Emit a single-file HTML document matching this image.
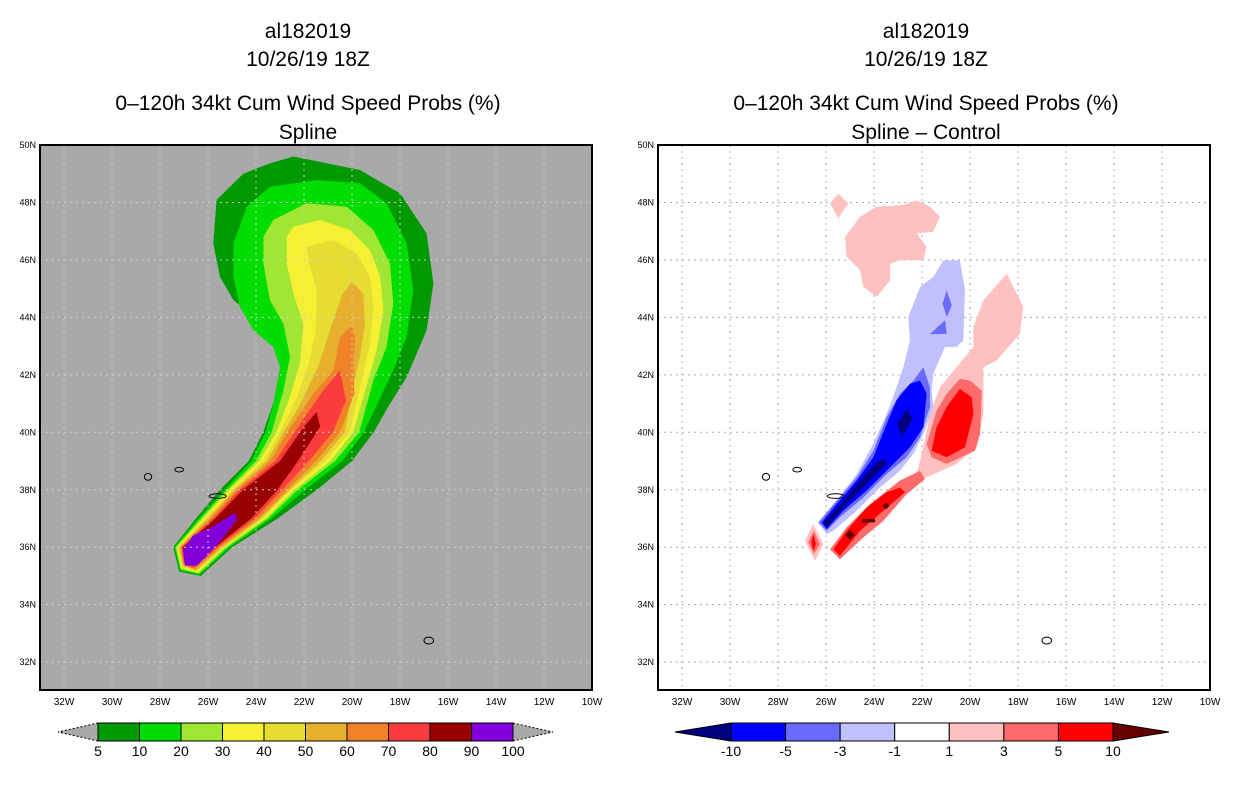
<!DOCTYPE html>
<html><head><meta charset="utf-8"><style>
body{margin:0;background:#fff;width:1236px;height:800px;overflow:hidden}
svg{display:block;font-family:"Liberation Sans",sans-serif}
</style></head><body>
<svg id="s" width="1236" height="800">
<g font-size="21" text-anchor="middle" fill="#000">
<text x="308" y="38">al182019</text>
<text x="308" y="66">10/26/19 18Z</text>
<text x="308" y="110">0–120h 34kt Cum Wind Speed Probs (%)</text>
<text x="308" y="139">Spline</text>
</g>
<g font-size="21" text-anchor="middle" fill="#000">
<text x="926" y="38">al182019</text>
<text x="926" y="66">10/26/19 18Z</text>
<text x="926" y="110">0–120h 34kt Cum Wind Speed Probs (%)</text>
<text x="926" y="139">Spline – Control</text>
</g>
</svg>
<script>
// axis ticks
const lonTicks=[32,30,28,26,24,22,20,18,16,14,12,10];
const latTicks=[50,48,46,44,42,40,38,36,34,32];
// left panel contour levels (outer to inner): colors and polygons [lonW,lat]
const leftColors=["#009900","#00dd00","#a0e632","#f5f032","#e6dc32","#e6af2d","#f08228","#fa3c3c","#990000","#8200dc"];
const leftLabels=["5","10","20","30","40","50","60","70","80","90","100"];
const p5=[[22.44,49.6],[19.67,49.13],[18,48.32],[16.89,46.92],[16.61,45.18],[16.89,43.55],[17.72,41.92],[18.42,40.99],[19.1,40],[20.0,39],[21.46,38],[23.1,37],[25.0,36],[26.3,35.0],[27.2,35.15],[27.45,36],[26.5,37],[25.5,38],[24.3,39],[23.7,40],[23,41.69],[22.86,42.97],[23.83,43.9],[24.94,44.6],[25.5,45.41],[25.78,46.57],[25.64,48.09],[24.53,49],[23.42,49.36]];
const p10=[[23.42,48.55],[21.47,48.78],[19.67,48.67],[18.56,47.97],[17.72,46.57],[17.44,44.95],[17.72,43.32],[18.28,42.16],[19.5,40],[20.4,39],[21.95,38],[23.35,37],[25.1,36],[26.34,35.04],[27.17,35.19],[27.4,36],[26.4,37],[25.3,38],[24.2,39],[23.6,40],[23.28,40.99],[23,42.27],[23.28,42.97],[24.11,43.55],[24.67,44.36],[24.94,45.41],[24.94,46.57],[24.39,47.85]];
const p20=[[23.28,47.39],[21.89,47.97],[20.22,47.85],[19.11,47.04],[18.42,45.88],[18.28,44.48],[18.56,42.97],[19.11,41.81],[19.7,40],[20.7,39],[22.25,38],[23.5,37],[25.2,36],[26.38,35.08],[27.14,35.23],[27.35,36],[26.3,37],[25.2,38],[24.0,39],[23.35,40],[22.86,41.46],[22.58,42.62],[22.86,43.78],[23.42,44.6],[23.69,45.88],[23.69,46.81]];
const p30=[[22.44,47.16],[21.33,47.39],[20.08,47.04],[19.25,46.34],[18.83,45.41],[18.69,44.25],[18.97,42.85],[19.4,41.6],[19.95,40],[20.9,39],[22.4,38],[23.6,37],[25.3,36],[26.42,35.12],[27.11,35.27],[27.3,36],[26.2,37],[25.1,38],[23.85,39],[23.15,40],[22.6,41.2],[22.17,42.39],[22.03,43.78],[22.44,44.83],[22.72,45.88],[22.72,46.81]];
const p40=[[21.89,46.46],[20.78,46.69],[19.81,46.23],[19.25,45.41],[19.11,44.36],[19.25,43.09],[19.6,41.8],[20.1,40],[21.1,39],[22.55,38],[23.7,37],[25.35,36],[26.46,35.16],[27.08,35.31],[27.25,36],[26.1,37],[25.0,38],[23.7,39],[23.0,40],[22.3,41.2],[21.8,42.4],[21.5,43.55],[21.47,44.95],[21.75,45.76]];
const p50=[[20.01,45.24],[19.53,44.83],[19.46,43.78],[19.67,42.62],[20.0,41.4],[20.3,40],[21.3,39],[22.6,38],[23.8,37],[25.4,36],[26.5,35.2],[27.05,35.35],[27.2,36],[26.0,37],[24.9,38],[23.55,39],[22.85,40],[22.2,40.9],[21.4,42.3],[20.9,43.6],[20.4,44.8]];
const p60=[[20.01,43.69],[19.88,43.32],[19.94,42.39],[19.9,41.35],[20.5,40],[21.5,39],[22.7,38],[23.9,37],[25.5,36],[26.54,35.24],[27.02,35.39],[27.15,36],[25.9,37],[24.8,38],[23.4,39],[22.7,40],[21.6,41.35],[20.77,42.16],[20.5,43.32]];
const p70=[[20.5,42.16],[20.25,41.12],[20.8,40],[21.8,39],[22.9,38],[24.05,37],[25.6,36],[26.58,35.28],[26.99,35.43],[27.1,36],[25.8,37],[24.7,38],[23.2,39],[22.4,40],[21.2,41.46]];
const p80=[[21.47,40.71],[21.33,40.19],[22.25,39],[23.1,38],[24.2,37],[25.7,36],[26.6,35.35],[26.96,35.45],[27.05,36],[25.7,37],[24.54,38],[23.0,39],[22.0,40.2]];
const p90=[[24.87,37.2],[24.8,36.95],[25.4,36.3],[26.04,35.7],[26.46,35.36],[26.96,35.36],[27.04,35.89],[26.62,36.41],[25.92,36.66]];
const leftPolys=[p5,p10,p20,p30,p40,p50,p60,p70,p80,p90];
// right panel difference contours
const diffColors=["#000080","#0000ff","#6a6aff","#c0c0ff","#ffffff","#ffc0c0","#ff6a6a","#ff0000","#660000"];
const diffLabels=["-10","-5","-3","-1","1","3","5","10"];
const rPinkTop=[[24.58,47.5],[23.89,47.85],[22.78,47.91],[22.22,48.08],[21.67,47.85],[21.25,47.5],[21.53,46.98],[22.22,46.92],[21.81,46.45],[21.94,45.99],[22.92,45.99],[23.33,45.87],[23.33,45.29],[23.89,44.71],[24.44,45.06],[24.58,45.64],[25.14,46.11],[25.21,46.8]];
const rPinkDia=[[25.49,48.31],[25.07,47.97],[25.49,47.44],[25.83,47.97]];
const rPinkBand=[[18.47,45.52],[17.78,44.36],[17.92,43.43],[18.89,42.5],[19.44,42.27],[19.44,40.64],[19.72,39.48],[20.56,38.9],[21.81,38.43],[22.64,38.08],[23.61,37.38],[24.72,36.57],[25.42,35.76],[25.83,35.87],[25.28,36.45],[24.17,37.27],[23.06,37.97],[22.22,38.55],[21.94,39.48],[21.67,40.64],[21.25,41.57],[20.56,42.27],[19.86,42.97],[19.86,43.66],[19.44,44.59]];
const rSalmonUp=[[20.42,41.86],[20,41.8],[19.51,41.45],[19.58,39.94],[19.79,39.36],[20.97,38.9],[21.6,39.13],[21.81,39.59],[21.39,40.76],[20.97,41.34]];
const rRedUp=[[20.42,41.51],[19.93,41.22],[19.86,40.64],[20.21,39.48],[20.97,39.13],[21.6,39.36],[21.39,40.18],[20.97,40.88]];
const rSalmonLow=[[22.08,38.66],[21.88,38.37],[22.64,37.85],[23.61,36.92],[24.44,36.34],[25.42,35.58],[25.83,35.93],[25.14,36.69],[24.17,37.5],[22.92,38.32]];
const rRedLow=[[22.92,38.08],[22.71,37.91],[23.61,37.27],[24.58,36.57],[25.42,35.7],[25.69,35.93],[25.14,36.57],[24.31,37.38],[23.47,37.91]];
const rPinkSmall=[[26.53,36.8],[26.11,36.1],[26.46,35.52],[26.88,36.22]];
const rSalmonSmall=[[26.5,36.57],[26.25,36.1],[26.5,35.76],[26.74,36.17]];
const rRedSmall=[[26.53,36.45],[26.42,36.1],[26.53,35.87],[26.61,36.17]];
const rDarkRed1=[[23.5,37.56],[23.35,37.44],[23.5,37.32],[23.65,37.44]];
const rDarkRed2=[[24.5,36.97],[23.96,36.99],[23.96,36.87],[24.5,36.85]];
const rDarkRed3=[[25,36.6],[24.8,36.43],[25,36.26],[25.2,36.43]];
const rLightBlue=[[21.11,45.99],[20.42,45.99],[20.21,44.94],[20.28,43.2],[20.56,42.97],[21.04,42.97],[21.53,42.04],[21.6,41.45],[21.53,40.87],[21.94,39.94],[22.36,39.25],[22.92,38.66],[23.75,38.08],[24.72,37.27],[25.69,36.57],[25.97,36.45],[26.32,36.86],[25.56,37.62],[24.72,38.55],[24.03,39.6],[23.47,40.64],[23.06,41.57],[22.78,42.27],[22.5,43.2],[22.57,44.01],[22.08,45.06],[21.53,45.41]];
const rMedDia=[[20.97,44.94],[20.76,44.42],[20.97,44.01],[21.14,44.48]];
const rMedTri=[[21.04,43.9],[20.97,43.43],[21.67,43.41]];
const rMedLow=[[21.94,42.27],[21.67,41.57],[21.67,40.87],[22.08,39.83],[22.64,39.13],[23.47,38.55],[24.44,37.73],[25.42,37.04],[25.97,36.57],[26.32,36.86],[25.56,37.62],[24.72,38.43],[24.03,39.36],[23.47,40.52],[22.92,41.34],[22.36,41.8]];
const rBlue=[[22.08,41.8],[21.81,41.34],[21.94,40.18],[22.5,39.48],[23.33,38.78],[24.31,37.97],[25.28,37.27],[25.97,36.63],[26.18,36.86],[25.56,37.5],[24.72,38.32],[24.03,39.13],[23.47,40.29],[23.06,41.11],[22.5,41.69]];
const rNavyUp=[[22.64,40.82],[22.39,40.47],[22.85,39.83],[23.03,40.3]];
const rNavyLow=[[23.54,39.08],[23.47,38.9],[24.31,38.2],[25.28,37.38],[25.97,36.69],[26.11,36.86],[25.42,37.45],[24.58,38.32],[23.89,38.96]];
const rightLayers=[[rPinkTop,5],[rPinkDia,5],[rPinkBand,5],[rSalmonUp,6],[rRedUp,7],[rSalmonLow,6],[rRedLow,7],[rPinkSmall,5],[rSalmonSmall,6],[rRedSmall,7],[rDarkRed1,8],[rDarkRed2,8],[rDarkRed3,8],[rLightBlue,3],[rMedDia,2],[rMedTri,2],[rMedLow,2],[rBlue,1],[rNavyUp,0],[rNavyLow,0]];
// islands [lonW,lat,rx(deg),ry(deg)]
const islands=[[28.5,38.45,0.15,0.12],[27.2,38.7,0.18,0.08],[25.6,37.78,0.35,0.08],[16.8,32.75,0.2,0.12]];

const NS="http://www.w3.org/2000/svg";
const svg=document.getElementById('s');
function mk(t,a,p){const e=document.createElementNS(NS,t);for(const k in a)e.setAttribute(k,a[k]);(p||svg).appendChild(e);return e;}
const W=552,H=545,TOP=145,LON0=33,LON1=10,LAT0=31.03,LAT1=50;
function xs(x0,lon){return x0+(LON0-lon)/(LON0-LON1)*W;}
function ys(lat){return TOP+(LAT1-lat)/(LAT1-LAT0)*H;}
function pts(x0,poly){return poly.map(p=>xs(x0,p[0]).toFixed(1)+','+ys(p[1]).toFixed(1)).join(' ');}

function panel(x0,bg,name){
  const g=mk('g',{});
  
  
  const r=mk('rect',{x:x0,y:TOP,width:W,height:H,fill:bg},g);
  
  
  return g;
}
function grid(g,x0,gridCol){
  const gg=mk('g',{stroke:gridCol,'stroke-width':1,'stroke-dasharray':'2,4'},g);
  
  
  lonTicks.forEach(l=>{const x=xs(x0,l);if(x>x0+2&&x<x0+W-2)mk('line',{x1:x,x2:x,y1:TOP,y2:TOP+H},gg);});
  latTicks.forEach(l=>{const y=ys(l);if(y>TOP+2)mk('line',{x1:x0,x2:x0+W,y1:y,y2:y},gg);});
}
function axes(g,x0){
  const f=mk('rect',{x:x0,y:TOP,width:W,height:H,fill:'none',stroke:'#000','stroke-width':2},g);
  
  
  const ax=mk('g',{fill:'#000'},g);
  
  
  lonTicks.forEach(l=>{const t=mk('text',{x:xs(x0,l),y:TOP+H+15,'text-anchor':'middle','font-size':10},ax);t.textContent=l+'W';
    
    });
  latTicks.forEach(l=>{const t=mk('text',{x:x0-4,y:ys(l)+3,'text-anchor':'end','font-size':9},ax);t.textContent=l+'N';
    
    });
}
function isl(g,x0){
  islands.forEach(i=>{const e=mk('ellipse',{cx:xs(x0,i[0]),cy:ys(i[1]),rx:i[2]*24,ry:i[3]*28.7,fill:'none',stroke:'#000','stroke-width':1},g);
    
    });
}
// Left panel
const L=panel(40,'#a9a9a9','left-map');
leftPolys.forEach((p,i)=>{const e=mk('polygon',{points:pts(40,p),fill:leftColors[i]},L);
  
  });
grid(L,40,'#cfcfcf');isl(L,40);axes(L,40);
// Right panel
const R=panel(658,'#ffffff','right-map');
grid(R,658,'#aaaaaa');
rightLayers.forEach(l=>{const e=mk('polygon',{points:pts(658,l[0]),fill:diffColors[l[1]]},R);
  
  });
isl(R,658);axes(R,658);

// Colorbars
function colorbar(x0,x1,y,h,cols,labels,triL,triR,triW,dashed,name){
  const g=mk('g',{});
  
  
  const n=cols.length,w=(x1-x0)/n;
  mk('polygon',{points:`${x0},${y} ${x0-triW},${y+h/2} ${x0},${y+h}`,fill:triL,stroke:'#000','stroke-width':1,'stroke-dasharray':dashed?'2,2':'none'},g);
  mk('polygon',{points:`${x1},${y} ${x1+triW},${y+h/2} ${x1},${y+h}`,fill:triR,stroke:'#000','stroke-width':1,'stroke-dasharray':dashed?'2,2':'none'},g);
  cols.forEach((c,i)=>{const r=mk('rect',{x:x0+i*w,y:y,width:w,height:h,fill:c,stroke:'#000','stroke-width':1},g);
    
    });
  labels.forEach((t,i)=>{const e=mk('text',{x:x0+i*w,y:y+h+15,'text-anchor':'middle','font-size':14},g);e.textContent=t;
    
    });
}
colorbar(98,513,723,18,leftColors,leftLabels,'#a9a9a9','#a9a9a9',40,true,'left-colorbar');
colorbar(731,1113,723,18,diffColors.slice(1,8),diffLabels,diffColors[0],diffColors[8],56,false,'right-colorbar');
</script>
</body></html>
